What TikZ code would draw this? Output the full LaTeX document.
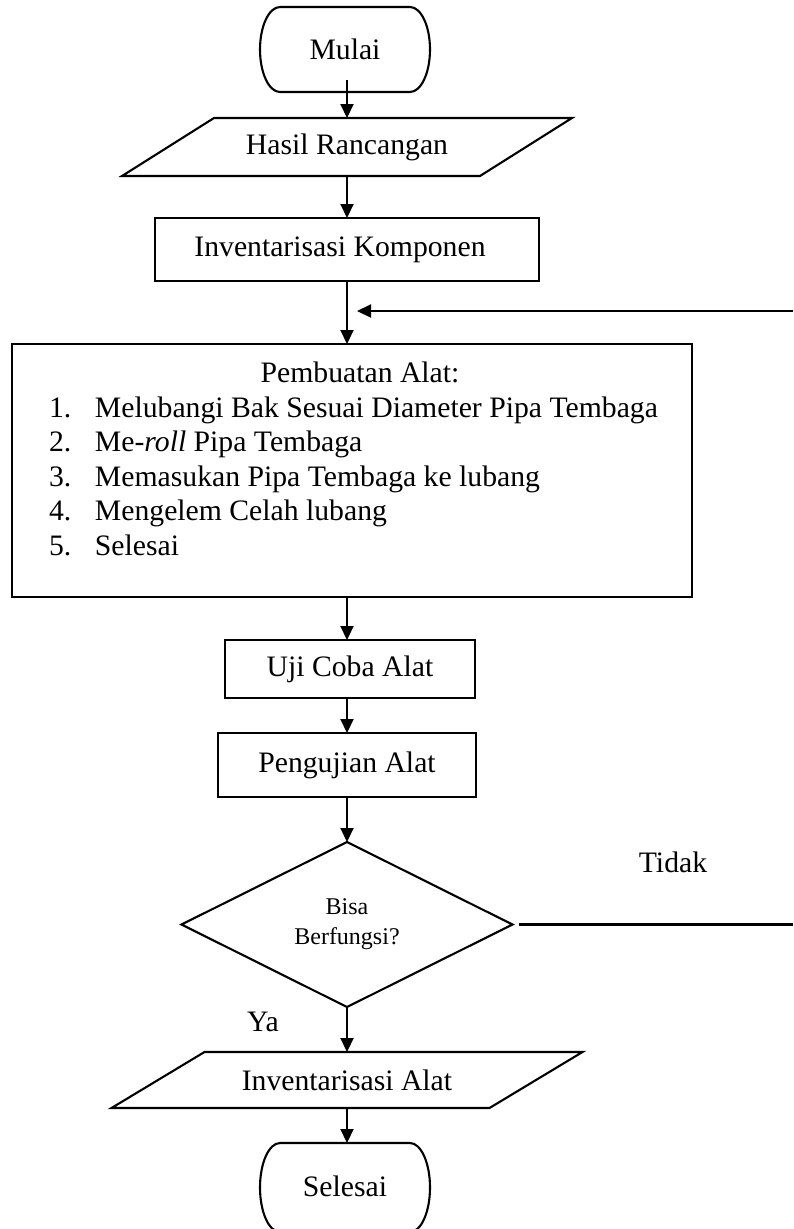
\documentclass[tikz,border=0pt]{standalone}
\usepackage{fontspec}
\setmainfont{Liberation Serif}
\usetikzlibrary{arrows.meta,shapes.geometric,calc}
\tikzset{
  ln/.style={line width=2.1pt},
  arr/.style={ln, -{Triangle[length=14pt,width=13pt]}},
  box/.style={draw, ln, rectangle, inner sep=0pt, outer sep=0pt},
  bare/.style={rectangle, inner sep=0pt, outer sep=0pt},
  txt/.style={inner sep=0pt, outer sep=0pt},
  decision/.style={draw, ln, diamond, inner sep=0pt, outer sep=0pt, align=center,
    font=\fontsize{24}{30}\selectfont},
  every node/.style={font=\fontsize{29.7}{34.5}\selectfont}
}
\newcommand{\termoutline}[2]{%
  \draw[ln] (#1.north west) -- (#1.north east)
    arc[start angle=90, end angle=-90, x radius=20pt, y radius=#2]
    -- (#1.south west)
    arc[start angle=270, end angle=90, x radius=20pt, y radius=#2] -- cycle;}
\newcommand{\iooutline}[2]{%
  \draw[ln] ($(#1.south west)+(-#2,0)$) -- ($(#1.south east)+(-#2,0)$)
    -- ($(#1.north east)+(#2,0)$) -- ($(#1.north west)+(#2,0)$) -- cycle;}
\begin{document}
\begin{tikzpicture}[x=1pt,y=-1pt]
\useasboundingbox (0,0) rectangle (793,1229);
\fill[white] (0,0) rectangle (793,1229);

% nodes
\node[bare, minimum width=130pt, minimum height=85pt] (mulai) at (345,49.5) {Mulai};
\termoutline{mulai}{42.5pt}
\node[bare, minimum width=358pt, minimum height=58pt] (hasil) at (347,147) {Hasil Rancangan};
\iooutline{hasil}{46}
\node[box, minimum width=384pt, minimum height=63pt] (invk) at (347,249.5) {\kern-14pt Inventarisasi Komponen};
\node[box, minimum width=680pt, minimum height=253pt] (buat) at (352,470.5) {};
\node[txt, anchor=base] (t0) at (360,382) {Pembuatan Alat:};
\node[txt, anchor=base west] (t1) at (49,417) {\makebox[46pt][l]{1.}Melubangi Bak Sesuai Diameter Pipa Tembaga};
\node[txt, anchor=base west] (t2) at (49,451.5) {\makebox[46pt][l]{2.}Me-\textit{roll} Pipa Tembaga};
\node[txt, anchor=base west] (t3) at (49,486) {\makebox[46pt][l]{3.}Memasukan Pipa Tembaga ke lubang};
\node[txt, anchor=base west] (t4) at (49,520.5) {\makebox[46pt][l]{4.}Mengelem Celah lubang};
\node[txt, anchor=base west] (t5) at (49,555) {\makebox[46pt][l]{5.}Selesai};
\node[box, minimum width=250pt, minimum height=58pt] (uji) at (350,669) {Uji Coba Alat};
\node[box, minimum width=258pt, minimum height=64pt] (peng) at (347,765) {Pengujian Alat};
\node[decision, minimum width=331pt, minimum height=165pt] (dec) at (347,924.5) {Bisa\\Berfungsi?};
\node[txt] (tidak) at (673,862) {Tidak};
\node[txt] (ya) at (263,1022) {Ya};
\node[bare, minimum width=378pt, minimum height=56pt] (inva) at (347,1080) {Inventarisasi Alat};
\iooutline{inva}{46.5}
\node[bare, minimum width=130pt, minimum height=89pt] (selesai) at (345,1187.5) {\raisebox{2pt}{Selesai}};
\termoutline{selesai}{44.5pt}

\coordinate (fbR) at (793,311);
\coordinate (fbL) at (357,311);
\coordinate (tdR) at (793,924.5);

% connectors
\draw[arr] ($(mulai.south -| hasil.north)+(0,-12)$) -- (hasil.north);
\draw[arr] (hasil.south) -- (invk.north);
\draw[arr] (invk.south) -- (invk.south |- buat.north);
\draw[arr] (fbR) -- (fbL);
\draw[arr] (invk.south |- buat.south) -- (invk.south |- uji.north);
\draw[arr] (uji.south -| peng.north) -- (peng.north);
\draw[arr] (peng.south) -- (dec.north);
\draw[ln] ([xshift=6pt]dec.east) -- (tdR);
\draw[arr] (dec.south) -- (inva.north);
\draw[arr] (inva.south) -- (inva.south |- selesai.north);
\end{tikzpicture}
\end{document}
